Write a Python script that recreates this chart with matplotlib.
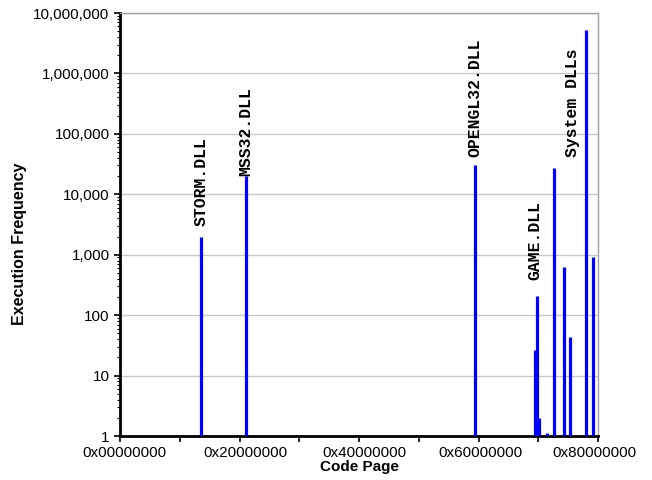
import numpy as np
import matplotlib.pyplot as plt
import matplotlib.transforms as mtransforms
from matplotlib.ticker import FixedLocator, FuncFormatter, LogLocator

# code page addresses and execution counts
pages = [0x15A00000, 0x21A00000, 0x5F200000,
         0x6F400000, 0x6FC00000, 0x70400000, 0x72400000,
         0x74400000, 0x77000000, 0x78A00000, 0x7CE00000, 0x7EC00000]
freq = [2000, 20000, 30000,
        26, 210, 2, 1.1,
        27000, 620, 44, 5300000, 930]

dll_names = ['STORM.DLL', 'MSS32.DLL', 'OPENGL32.DLL', 'GAME.DLL', 'System DLLs']
dll_x = [0x15A00000, 0x21A00000, 0x5F200000, 0x6F000000, 0x79200000]
dll_y = [3000, 20000, 42000, 380, 42000]

xticks = [0x00000000, 0x20000000, 0x40000000, 0x60000000, 0x80000000]
xlabels = ['0x%08X' % t for t in xticks]

plt.rcParams['font.family'] = ['Liberation Sans', 'DejaVu Sans']

fig = plt.figure(figsize=(6.52, 4.8), dpi=100)
ax = fig.add_axes([120 / 652, 44 / 480, 478 / 652, 423 / 480])

ax.vlines(pages, 1, freq, colors='#0000FF', linewidth=2.3, zorder=3)

for name, x, y in zip(dll_names, dll_x, dll_y):
    ax.text(x, y, name, rotation=90, ha='center', va='bottom',
            family='Liberation Mono', fontweight='bold', fontsize=11.8)

ax.set_yscale('log')
ax.set_ylim(1, 1e7)
ax.set_xlim(0, 0x80000000)

ax.yaxis.set_major_locator(LogLocator(base=10, numticks=10))
ax.yaxis.set_minor_locator(LogLocator(base=10, subs=np.arange(2, 10), numticks=10))
ax.yaxis.set_major_formatter(FuncFormatter(lambda v, p: f'{int(round(v)):,}'))
ax.set_xticks(xticks)
ax.set_xticklabels(xlabels)
ax.xaxis.set_minor_locator(FixedLocator([0x10000000, 0x30000000, 0x50000000, 0x70000000]))

ax.grid(axis='y', which='major', color='#C8C8C8', linewidth=1)
ax.set_axisbelow(True)

ax.tick_params(axis='both', which='major', labelsize=11, length=4, width=1.2, direction='out')
ax.tick_params(axis='y', which='minor', length=2.5, width=0.8, direction='out')
ax.tick_params(axis='x', which='minor', length=4, width=1.2, direction='out')
ax.tick_params(axis='x', which='major', pad=3)

# excel nudges the tick labels a few pixels off their ticks
nudge_px = [4, 5.5, 5.5, 1.5, -3.5]
for lab, dx in zip(ax.get_xticklabels(), nudge_px):
    shift = mtransforms.ScaledTranslation(dx / 100, 0, fig.dpi_scale_trans)
    lab.set_transform(lab.get_transform() + shift)

for s in ['left', 'bottom']:
    ax.spines[s].set_linewidth(2)
    ax.spines[s].set_color('black')
for s in ['top', 'right']:
    ax.spines[s].set_linewidth(1)
    ax.spines[s].set_color('#A0A0A0')

ax.set_xlabel('Code Page', fontweight='bold', fontsize=11, labelpad=0)
ax.set_ylabel('Execution Frequency', fontweight='bold', fontsize=11.5)
ax.yaxis.set_label_coords(-93 / 478, (436 - 244) / 423)

fig.savefig('out.png', dpi=100)
